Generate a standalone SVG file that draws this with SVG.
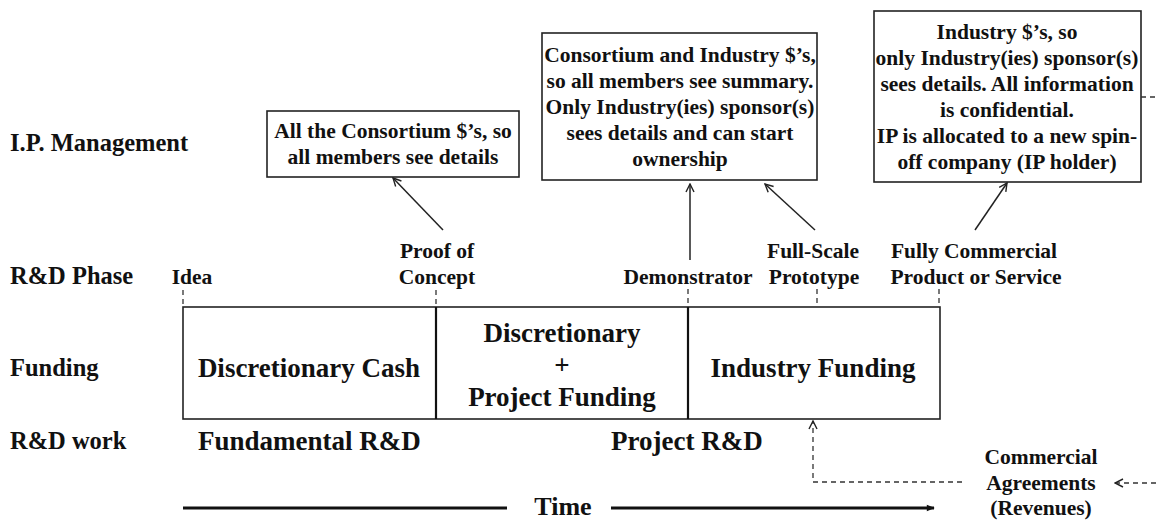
<svg xmlns="http://www.w3.org/2000/svg" width="1156" height="521" viewBox="0 0 1156 521">
<defs>
<style>
text{font-family:"Liberation Serif","Times New Roman",serif;font-weight:bold;fill:#111}
.row{font-size:24.5px}
.big{font-size:27px}
.lbl{font-size:21.5px;text-anchor:middle}
.box{fill:#fff;stroke:#222;stroke-width:1.6}
.ln{stroke:#222;stroke-width:1.5;fill:none}
.dash{stroke:#333;stroke-width:1.3;fill:none;stroke-dasharray:5,4}
.mid{text-anchor:middle}
</style>
<marker id="open" viewBox="0 0 10 10" refX="9" refY="5" markerWidth="10" markerHeight="10" markerUnits="userSpaceOnUse" orient="auto">
<path d="M1,1 L9,5 L1,9" fill="none" stroke="#222" stroke-width="1.4"/>
</marker>
<marker id="solid" viewBox="0 0 10 10" refX="9" refY="5" markerWidth="10" markerHeight="8" markerUnits="userSpaceOnUse" orient="auto">
<path d="M0,1 L10,5 L0,9 z" fill="#111"/>
</marker>
</defs>
<rect width="1156" height="521" fill="#fff"/>

<g id="row-labels">
<text class="row" x="10" y="151">I.P. Management</text>
<text class="row" x="10" y="284">R&amp;D Phase</text>
<text class="row" x="10" y="376">Funding</text>
<text class="row" x="10" y="449">R&amp;D work</text>
</g>

<g id="ip-box-1">
<rect class="box" x="267" y="111" width="252" height="66"/>
<text class="lbl" x="393" y="138">All the Consortium $’s, so</text>
<text class="lbl" x="393" y="164">all members see details</text>
</g>

<g id="ip-box-2">
<rect class="box" x="542" y="33" width="275" height="147"/>
<text class="lbl" x="680" y="62">Consortium and Industry $’s,</text>
<text class="lbl" x="680" y="88">so all members see summary.</text>
<text class="lbl" x="680" y="114">Only Industry(ies) sponsor(s)</text>
<text class="lbl" x="680" y="140">sees details and can start</text>
<text class="lbl" x="680" y="166">ownership</text>
</g>

<g id="ip-box-3">
<rect class="box" x="874" y="11" width="267" height="171"/>
<text class="lbl" x="1007" y="39">Industry $’s, so</text>
<text class="lbl" x="1007" y="65">only Industry(ies) sponsor(s)</text>
<text class="lbl" x="1007" y="91">sees details. All information</text>
<text class="lbl" x="1007" y="117">is confidential.</text>
<text class="lbl" x="1007" y="143">IP is allocated to a new spin-</text>
<text class="lbl" x="1007" y="169">off company (IP holder)</text>
</g>

<g id="phase-idea"><text class="lbl" x="192" y="284">Idea</text></g>
<g id="phase-proof">
<text class="lbl" x="437" y="258">Proof of</text>
<text class="lbl" x="437" y="284">Concept</text>
</g>
<g id="phase-demo"><text class="lbl" x="688" y="284">Demonstrator</text></g>
<g id="phase-prototype">
<text class="lbl" x="813" y="258">Full-Scale</text>
<text class="lbl" x="814" y="284">Prototype</text>
</g>
<g id="phase-commercial">
<text class="lbl" x="974" y="258">Fully Commercial</text>
<text class="lbl" x="976" y="284">Product or Service</text>
</g>

<g id="funding-box">
<rect class="box" x="183" y="307" width="757" height="112"/>
<line x1="436" y1="307" x2="436" y2="419" stroke="#111" stroke-width="2.2"/>
<line x1="688" y1="307" x2="688" y2="419" stroke="#111" stroke-width="2.2"/>
<text class="big mid" x="309" y="377">Discretionary Cash</text>
<text class="big mid" x="562" y="342">Discretionary</text>
<text class="big mid" x="562" y="374">+</text>
<text class="big mid" x="562" y="406">Project Funding</text>
<text class="big mid" x="813" y="377">Industry Funding</text>
</g>

<g id="work">
<text class="big" x="198" y="450">Fundamental R&amp;D</text>
<text class="big" x="611" y="450">Project R&amp;D</text>
</g>

<g id="commercial-agreements">
<text class="lbl" x="1041" y="464">Commercial</text>
<text class="lbl" x="1041" y="490">Agreements</text>
<text class="lbl" x="1041" y="515">(Revenues)</text>
</g>

<g id="time">
<text class="mid" x="563" y="515" style="font-size:26px">Time</text>
</g>

<g id="connectors">
<line class="dash" x1="183" y1="290" x2="183" y2="307"/>
<line class="dash" x1="436" y1="290" x2="436" y2="307"/>
<line class="dash" x1="688" y1="289" x2="688" y2="307"/>
<line class="dash" x1="817" y1="289" x2="817" y2="307"/>
<line class="dash" x1="939" y1="289" x2="939" y2="307"/>
<line class="ln" x1="443" y1="230" x2="393" y2="178" marker-end="url(#open)"/>
<line class="ln" x1="690" y1="260" x2="690" y2="184" marker-end="url(#open)"/>
<line class="ln" x1="815" y1="230" x2="765" y2="184" marker-end="url(#open)"/>
<line class="ln" x1="975" y1="230" x2="1007" y2="183" marker-end="url(#open)"/>
<line class="dash" x1="1141" y1="97" x2="1156" y2="97"/>
<polyline class="dash" points="962,482 813,482 813,421" marker-end="url(#open)"/>
<line class="dash" x1="1156" y1="483" x2="1115" y2="483" marker-end="url(#open)"/>
<line x1="183" y1="508" x2="507" y2="508" stroke="#111" stroke-width="3"/>
<line x1="611" y1="508" x2="934" y2="508" stroke="#111" stroke-width="3" marker-end="url(#solid)"/>
</g>
</svg>
